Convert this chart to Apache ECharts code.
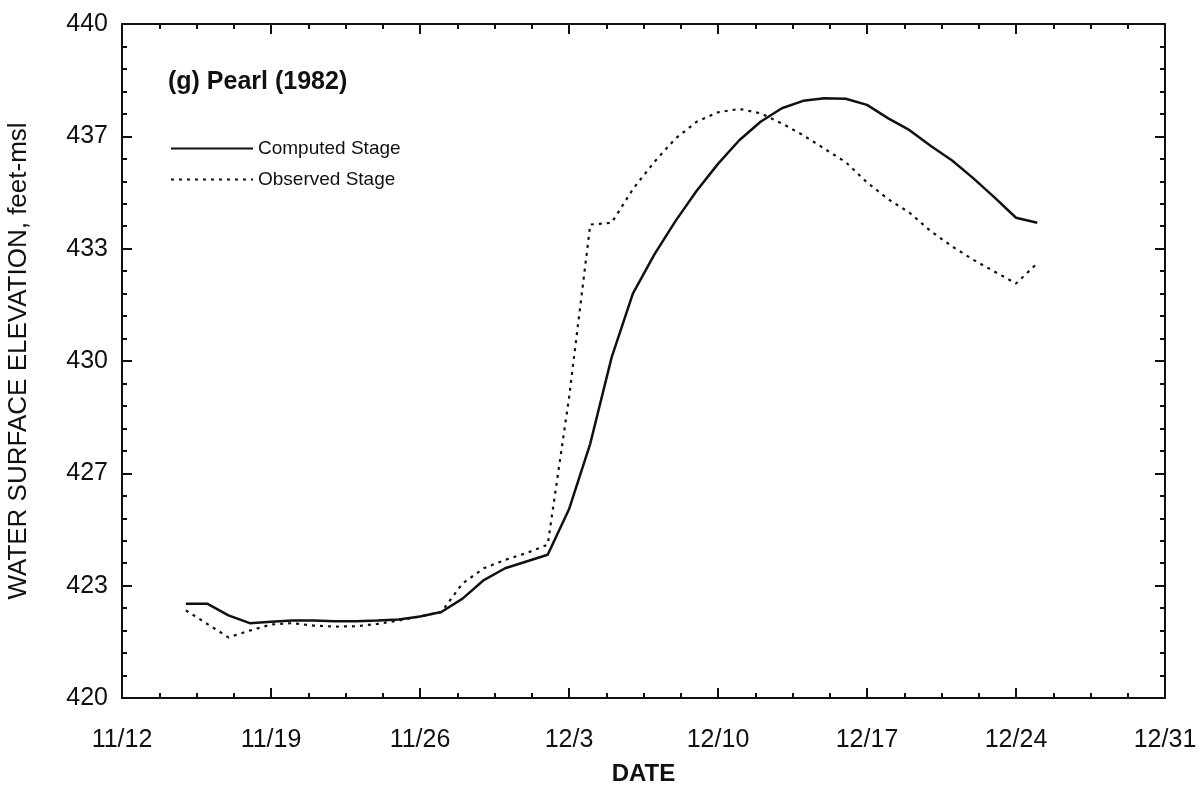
<!DOCTYPE html>
<html>
<head>
<meta charset="utf-8">
<title>Pearl (1982) stage</title>
<script src="https://cdn.jsdelivr.net/npm/echarts@6/dist/echarts.min.js"></script>
<style>
  html, body { margin: 0; padding: 0; background: #fff; }
  #chart { width: 1202px; height: 793px; }
</style>
</head>
<body>
<div id="chart"></div>
<script>
// Daily dates (1982) for both stage series
const dates = [
  '11/15','11/16','11/17','11/18','11/19','11/20','11/21','11/22','11/23','11/24',
  '11/25','11/26','11/27','11/28','11/29','11/30','12/1','12/2','12/3','12/4',
  '12/5','12/6','12/7','12/8','12/9','12/10','12/11','12/12','12/13','12/14',
  '12/15','12/16','12/17','12/18','12/19','12/20','12/21','12/22','12/23','12/24',
  '12/25'
];

// Water surface elevation, feet-msl
const computedStage = [
  422.8, 422.8, 422.45, 422.22, 422.26, 422.3, 422.3, 422.28, 422.28, 422.3,
  422.33, 422.42, 422.55, 422.95, 423.5, 423.85, 424.05, 424.25, 425.6, 427.55,
  430.1, 432.0, 433.15, 434.15, 435.05, 435.85, 436.55, 437.1, 437.5, 437.72,
  437.8, 437.78, 437.6, 437.2, 436.85, 436.38, 435.95, 435.42, 434.85, 434.25,
  434.1
];
const observedStage = [
  422.6, 422.2, 421.8, 422.0, 422.18, 422.22, 422.15, 422.12, 422.13, 422.2,
  422.3, 422.42, 422.55, 423.4, 423.85, 424.1, 424.3, 424.55, 428.9, 434.05,
  434.1, 435.1, 435.9, 436.6, 437.1, 437.38, 437.48, 437.35, 437.05, 436.7,
  436.3, 435.9, 435.3, 434.8, 434.4, 433.85, 433.4, 433.0, 432.65, 432.3,
  432.9
];

// Axis tick labels
const xTickLabels = ['11/12', '11/19', '11/26', '12/3', '12/10', '12/17', '12/24', '12/31'];
const yTickLabels = ['420', '423', '427', '430', '433', '437', '440'];

const YEAR = 1982;
const DAY_MS = 86400000;
function dayOffset(md) {
  const [m, d] = md.split('/').map(Number);
  const [m0, d0] = xTickLabels[0].split('/').map(Number);
  return (Date.UTC(YEAR, m - 1, d) - Date.UTC(YEAR, m0 - 1, d0)) / DAY_MS;
}
const xMax = dayOffset(xTickLabels[xTickLabels.length - 1]);
const xStep = xMax / (xTickLabels.length - 1);
const yMin = Number(yTickLabels[0]);
const yMax = Number(yTickLabels[yTickLabels.length - 1]);
const yStep = (yMax - yMin) / (yTickLabels.length - 1);

const FONT = '"Liberation Sans", Arial, Helvetica, sans-serif';
const INK = '#111';

const axisLine = { show: true, onZero: false, lineStyle: { color: INK, width: 2 } };
const majorTick = { show: true, inside: true, length: 10, lineStyle: { color: INK, width: 2 } };
const minorX = { show: true, splitNumber: 4, length: 5, lineStyle: { color: INK, width: 2 } };
const minorY = { show: true, splitNumber: 5, length: 5, lineStyle: { color: INK, width: 2 } };

const chart = echarts.init(document.getElementById('chart'), null, { renderer: 'canvas' });

chart.setOption({
  animation: false,
  backgroundColor: '#fff',
  grid: { left: 122, right: 37, top: 24, bottom: 95, containLabel: false, outerBoundsMode: 'none' },
  title: {
    text: '(g) Pearl (1982)',
    left: 163, top: 65,
    textStyle: { fontFamily: FONT, fontSize: 25, fontWeight: 'bold', color: INK }
  },
  legend: {
    orient: 'vertical',
    left: 165, top: 134,
    itemWidth: 82, itemHeight: 20, itemGap: 12,
    itemStyle: { opacity: 0 },
    textStyle: { fontFamily: FONT, fontSize: 19, color: INK, padding: [0, 0, 0, 0] },
    data: ['Computed Stage', 'Observed Stage']
  },
  xAxis: [
    {
      type: 'value', min: 0, max: xMax, interval: xStep,
      name: 'DATE', nameLocation: 'middle', nameGap: 64,
      nameTextStyle: { fontFamily: FONT, fontSize: 24, fontWeight: 'bold', color: INK },
      axisLine, axisTick: majorTick, minorTick: minorX,
      axisLabel: {
        fontFamily: FONT, fontSize: 25, color: INK, margin: 30,
        formatter: v => xTickLabels[Math.round(v / xStep)] || ''
      },
      splitLine: { show: false }
    },
    {
      type: 'value', position: 'top', min: 0, max: xMax, interval: xStep,
      axisLine, axisTick: majorTick, minorTick: minorX,
      axisLabel: { show: false }, splitLine: { show: false }
    }
  ],
  yAxis: [
    {
      type: 'value', min: yMin, max: yMax, interval: yStep,
      name: 'WATER SURFACE ELEVATION, feet-msl', nameLocation: 'middle', nameGap: 90,
      nameTextStyle: { fontFamily: FONT, fontSize: 26, color: INK },
      axisLine, axisTick: majorTick, minorTick: minorY,
      axisLabel: {
        fontFamily: FONT, fontSize: 25, color: INK, margin: 14,
        formatter: v => yTickLabels[Math.round((v - yMin) / yStep)] || ''
      },
      splitLine: { show: false }
    },
    {
      type: 'value', position: 'right', min: yMin, max: yMax, interval: yStep,
      axisLine, axisTick: majorTick, minorTick: minorY,
      axisLabel: { show: false }, splitLine: { show: false }
    }
  ],
  series: [
    {
      name: 'Computed Stage', type: 'line', xAxisIndex: 0, yAxisIndex: 0,
      data: dates.map((d, i) => [dayOffset(d), computedStage[i]]),
      symbol: 'none', smooth: false,
      lineStyle: { color: INK, width: 2.5, type: 'solid' },
      itemStyle: { color: INK }
    },
    {
      name: 'Observed Stage', type: 'line', xAxisIndex: 0, yAxisIndex: 0,
      data: dates.map((d, i) => [dayOffset(d), observedStage[i]]),
      symbol: 'none', smooth: false,
      lineStyle: { color: INK, width: 2.2, type: [3, 5] },
      itemStyle: { color: INK }
    }
  ]
});
</script>
</body>
</html>
